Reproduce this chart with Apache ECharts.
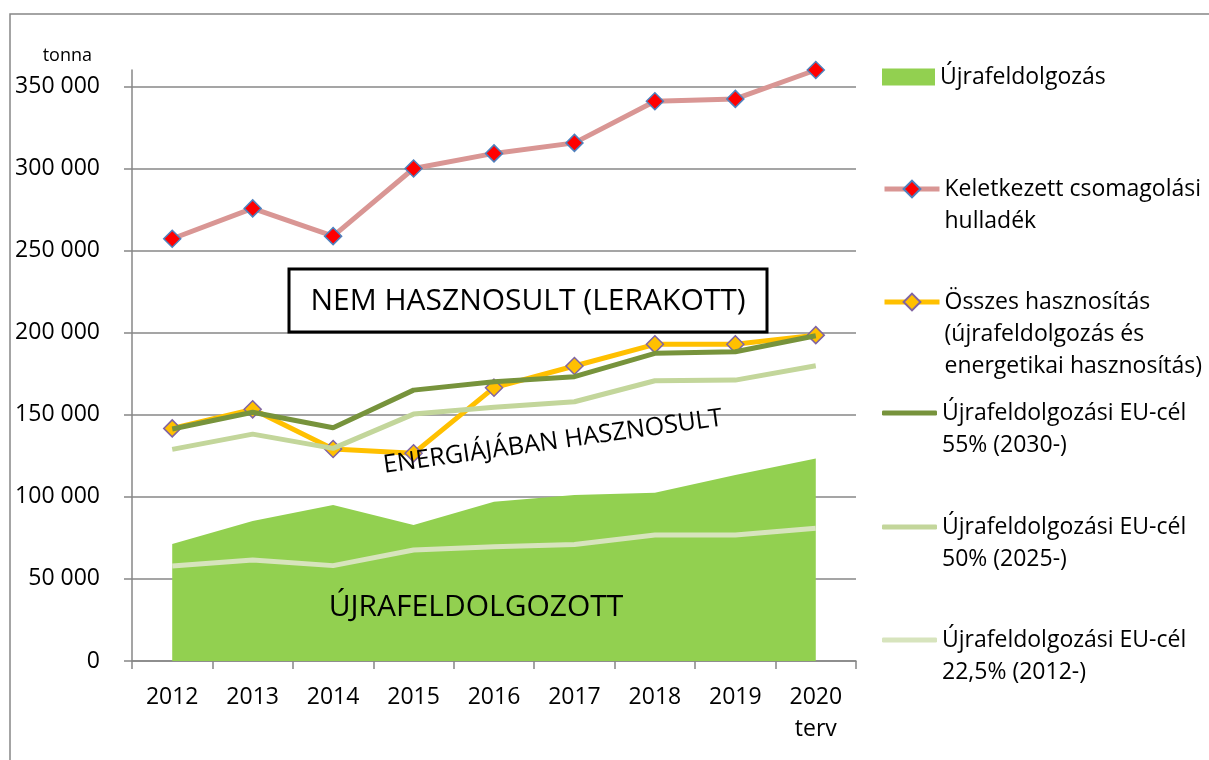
<!DOCTYPE html>
<html>
<head>
<meta charset="utf-8">
<script src="https://cdn.jsdelivr.net/npm/echarts@6/dist/echarts.min.js"></script>
<style>
  html, body { margin: 0; padding: 0; background: #fff; }
  #chart { width: 1209px; height: 760px; }
</style>
</head>
<body>
<div id="chart"></div>
<script>
// adatok (tonna)
const years = ["2012", "2013", "2014", "2015", "2016", "2017", "2018", "2019", "2020\nterv"];
const ujrafeldolgozas = [71300, 85300, 95000, 82800, 97000, 101100, 102500, 113300, 123400];
const keletkezett = [257200, 275700, 258800, 300000, 309200, 315600, 341000, 342400, 360000];
const osszes = [141700, 153300, 129100, 126500, 166500, 179700, 192900, 192900, 198500];
const cel55 = [141300, 151500, 142100, 165000, 170100, 173200, 187400, 188400, 198100];
const cel50 = [128900, 138200, 129500, 150400, 154500, 157900, 170700, 171100, 179800];
const cel225 = [57900, 61500, 58100, 67600, 69600, 71000, 76700, 76700, 80800];

const names = {
  area: "Újrafeldolgozás",
  kel: "Keletkezett csomagolási\nhulladék",
  ossz: "Összes hasznosítás\n(újrafeldolgozás és\nenergetikai hasznosítás)",
  c55: "Újrafeldolgozási EU-cél\n55% (2030-)",
  c50: "Újrafeldolgozási EU-cél\n50% (2025-)",
  c225: "Újrafeldolgozási EU-cél\n22,5% (2012-)"
};

const FONT = "Open Sans";
const GRAY = "#878787";
const LINE_H = 32;

const chart = echarts.init(document.getElementById("chart"), null, { renderer: "canvas" });

// egy legend elem: az ikon az első sorhoz igazodik (üres sorok elé)
function legendItem(name, iconY, extra) {
  const n = name.split("\n").length;
  return Object.assign({
    left: 882,
    top: iconY - (LINE_H * n - LINE_H / 2),
    padding: 0,
    selectedMode: false,
    itemWidth: 55,
    itemHeight: 21,
    data: [name],
    formatter: (s) => "\n".repeat(n - 1) + s,
    lineStyle: { width: 5 },
    textStyle: {
      fontFamily: FONT,
      fontSize: 23,
      color: "#000",
      lineHeight: LINE_H
    }
  }, extra || {});
}

function fmt(v) {
  return String(v).replace(/\B(?=(\d{3})+(?!\d))/g, " ");
}

const option = {
  backgroundColor: "#fff",
  animation: false,
  grid: { left: 132, right: 353, top: 70, bottom: 99, outerBoundsMode: "none" },
  legend: [
    legendItem(names.area, 77, { icon: "rect", itemWidth: 53, itemHeight: 17 }),
    legendItem(names.kel, 189),
    legendItem(names.ossz, 302),
    legendItem(names.c55, 413, { icon: "roundRect", itemHeight: 5 }),
    legendItem(names.c50, 527, { icon: "roundRect", itemHeight: 5 }),
    legendItem(names.c225, 640, { icon: "roundRect", itemHeight: 5 })
  ],
  xAxis: {
    type: "category",
    data: years,
    boundaryGap: true,
    axisLine: { show: true, lineStyle: { color: GRAY, width: 1.5 } },
    axisTick: { show: true, length: 8, interval: 0, lineStyle: { color: GRAY, width: 1.5 } },
    axisLabel: { fontFamily: FONT, fontSize: 23, color: "#000", margin: 20, lineHeight: LINE_H, interval: 0 },
    splitLine: { show: false }
  },
  yAxis: {
    type: "value",
    min: 0,
    max: 360000,
    interval: 50000,
    name: "tonna",
    nameLocation: "end",
    nameGap: 5,
    nameTextStyle: { fontFamily: FONT, fontSize: 18, color: "#000", align: "right", padding: [0, 40, 0, 0] },
    axisLine: { show: true, lineStyle: { color: GRAY, width: 1.5 } },
    axisTick: { show: true, length: 8, lineStyle: { color: GRAY, width: 1.5 } },
    axisLabel: { fontFamily: FONT, fontSize: 23, color: "#000", margin: 32, showMaxLabel: false, formatter: fmt },
    splitLine: { show: true, showMaxLine: false, lineStyle: { color: GRAY, width: 1.5 } }
  },
  series: [
    {
      name: names.area,
      type: "line",
      data: ujrafeldolgozas,
      symbol: "none",
      color: "#92D050",
      lineStyle: { width: 0 },
      areaStyle: { color: "#92D050", opacity: 1 },
      z: 1
    },
    {
      name: names.kel,
      type: "line",
      data: keletkezett,
      clip: false,
      symbol: "diamond",
      symbolSize: 17,
      lineStyle: { color: "#D99694", width: 5 },
      itemStyle: { color: "#FF0000", borderColor: "#4F81BD", borderWidth: 1.5 },
      z: 2
    },
    {
      name: names.ossz,
      type: "line",
      data: osszes,
      symbol: "diamond",
      symbolSize: 17,
      lineStyle: { color: "#FFC000", width: 5 },
      itemStyle: { color: "#FFC000", borderColor: "#8064A2", borderWidth: 1.5 },
      z: 3
    },
    {
      name: names.c55,
      type: "line",
      data: cel55,
      symbol: "none",
      color: "#77933C",
      lineStyle: { color: "#77933C", width: 5 },
      z: 4
    },
    {
      name: names.c50,
      type: "line",
      data: cel50,
      symbol: "none",
      color: "#C3D69B",
      lineStyle: { color: "#C3D69B", width: 5 },
      z: 4
    },
    {
      name: names.c225,
      type: "line",
      data: cel225,
      symbol: "none",
      color: "#D7E4BD",
      lineStyle: { color: "#D7E4BD", width: 5 },
      z: 4
    }
  ],
  graphic: [
    // külső keret
    {
      type: "rect",
      z: 0,
      silent: true,
      shape: { x: 10, y: 14, width: 1260, height: 800 },
      style: { fill: null, stroke: GRAY, lineWidth: 1.5 }
    },
    {
      type: "rect",
      z: 100,
      shape: { x: 289, y: 269, width: 478, height: 63 },
      style: { fill: "#fff", stroke: "#000", lineWidth: 3 }
    },
    {
      type: "text",
      z: 101,
      x: 528,
      y: 301,
      style: { text: "NEM HASZNOSULT (LERAKOTT)", fontFamily: FONT, fontSize: 30, fill: "#000", align: "center", verticalAlign: "middle" }
    },
    {
      type: "text",
      z: 101,
      x: 553,
      y: 442,
      rotation: 8 * Math.PI / 180,
      style: { text: "ENERGIÁJÁBAN HASZNOSULT", fontFamily: FONT, fontSize: 25, fill: "#000", align: "center", verticalAlign: "middle" }
    },
    {
      type: "text",
      z: 101,
      x: 476,
      y: 607,
      style: { text: "ÚJRAFELDOLGOZOTT", fontFamily: FONT, fontSize: 30, fill: "#000", align: "center", verticalAlign: "middle" }
    }
  ]
};

chart.setOption(option);
</script>
</body>
</html>
